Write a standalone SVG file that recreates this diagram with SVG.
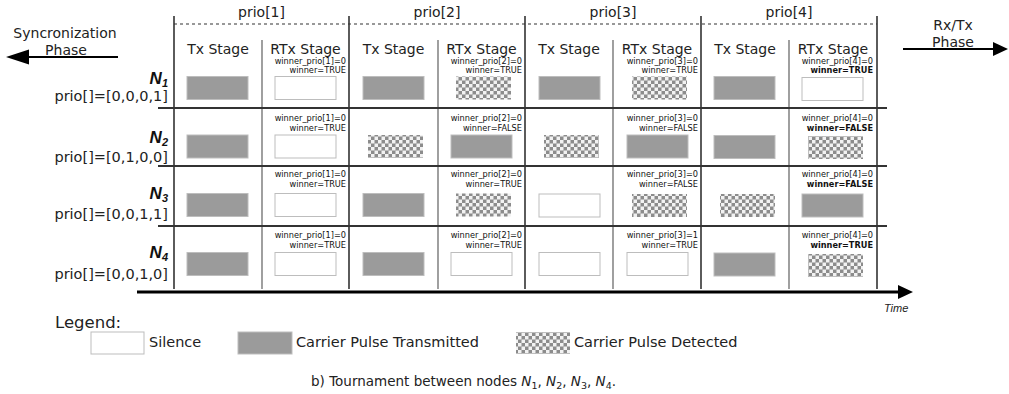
<svg xmlns="http://www.w3.org/2000/svg" width="1009" height="394" viewBox="0 0 1009 394">
<style>
.t{font-family:"DejaVu Sans",sans-serif;fill:#222}
.hdr{font-size:14px;text-anchor:middle}
.lab{font-size:14.5px;text-anchor:end}
.sm{font-family:"DejaVu Sans",sans-serif;font-size:8.2px;text-anchor:end;fill:#111}
.b{font-weight:bold}
.nn{font-family:"Liberation Sans",Arial,sans-serif;font-weight:bold;font-style:italic;font-size:17px;text-anchor:end;fill:#111}
.g{fill:#9b9b9b;stroke:#bdbdbd;stroke-width:1}
.w{fill:#fff;stroke:#bdbdbd;stroke-width:1}
.c{fill:url(#chk)}
.major{stroke:#333;stroke-width:1.6}
.minor{stroke:#888;stroke-width:1.6}
.row{stroke:#333;stroke-width:2}
</style>
<defs>
<pattern id="chk" width="7" height="7" patternUnits="userSpaceOnUse">
<rect width="7" height="7" fill="#8c8c8c"/>
<rect width="3.5" height="3.5" fill="#f2f2f2"/>
<rect x="3.5" y="3.5" width="3.5" height="3.5" fill="#f2f2f2"/>
</pattern>
</defs>
<rect width="1009" height="394" fill="#fff"/>

<g id="grid">
<line x1="174" y1="24" x2="877" y2="24" stroke="#333" stroke-width="1.2" stroke-dasharray="3,3"/>
<line class="major" x1="174" y1="16" x2="174" y2="289"/>
<line class="major" x1="349" y1="16" x2="349" y2="289"/>
<line class="major" x1="525" y1="16" x2="525" y2="289"/>
<line class="major" x1="701" y1="16" x2="701" y2="289"/>
<line class="major" x1="877" y1="16" x2="877" y2="289"/>
<line class="minor" x1="262" y1="40" x2="262" y2="289"/>
<line class="minor" x1="438" y1="40" x2="438" y2="289"/>
<line class="minor" x1="613" y1="40" x2="613" y2="289"/>
<line class="minor" x1="789" y1="40" x2="789" y2="289"/>
<line class="row" x1="158" y1="108" x2="887" y2="108"/>
<line class="row" x1="158" y1="166" x2="887" y2="166"/>
<line class="row" x1="158" y1="226" x2="887" y2="226"/>
</g>

<g id="headers">
<text class="t hdr" x="261.5" y="17">prio[1]</text>
<text class="t hdr" x="437" y="17">prio[2]</text>
<text class="t hdr" x="613" y="17">prio[3]</text>
<text class="t hdr" x="789" y="17">prio[4]</text>
<text class="t hdr" x="218" y="54">Tx Stage</text>
<text class="t hdr" x="305.5" y="54">RTx Stage</text>
<text class="t hdr" x="393.5" y="54">Tx Stage</text>
<text class="t hdr" x="481.5" y="54">RTx Stage</text>
<text class="t hdr" x="569" y="54">Tx Stage</text>
<text class="t hdr" x="657" y="54">RTx Stage</text>
<text class="t hdr" x="745" y="54">Tx Stage</text>
<text class="t hdr" x="833" y="54">RTx Stage</text>
</g>

<g id="phase-sync">
<text class="t" font-size="14" x="65" y="38" text-anchor="middle">Syncronization</text>
<text class="t" font-size="14" x="66" y="55" text-anchor="middle">Phase</text>
</g>
<g id="phase-rxtx">
<text class="t" font-size="14" x="953" y="30" text-anchor="middle">Rx/Tx</text>
<text class="t" font-size="14" x="953" y="47" text-anchor="middle">Phase</text>
</g>

<g id="connectors">
<line x1="118" y1="57" x2="26" y2="57" stroke="#000" stroke-width="2"/>
<polygon points="6,57 29,49.5 29,64.5" fill="#000"/>
<line x1="903" y1="49" x2="994" y2="49" stroke="#000" stroke-width="2"/>
<polygon points="1008,49 993,42 993,56" fill="#000"/>
<line x1="137" y1="292" x2="900" y2="292" stroke="#000" stroke-width="3"/>
<polygon points="913,292 898,285 898,299" fill="#000"/>
</g>
<text id="time" x="884" y="312" font-family="Liberation Sans,Arial,sans-serif" font-style="italic" font-size="11" fill="#222">Time</text>

<g id="node-N1">
<text class="nn" x="168" y="84">N<tspan font-size="11" dy="3">1</tspan></text>
<text class="t lab" x="168" y="101">prio[]=[0,0,0,1]</text>
<rect class="g" x="187" y="76.5" width="61" height="23"/>
<rect class="w" x="275" y="76.5" width="61" height="23"/>
<text class="sm" x="346" y="64">winner_prio[1]=0</text><text class="sm" x="346" y="73">winner=TRUE</text>
<rect class="g" x="363" y="76.5" width="61" height="23"/>
<rect class="c" x="456" y="76.5" width="55" height="23"/>
<text class="sm" x="522" y="64">winner_prio[2]=0</text><text class="sm" x="522" y="73">winner=TRUE</text>
<rect class="g" x="539" y="76.5" width="61" height="23"/>
<rect class="c" x="632" y="76.5" width="55" height="23"/>
<text class="sm" x="698" y="64">winner_prio[3]=0</text><text class="sm" x="698" y="73">winner=TRUE</text>
<rect class="g" x="714" y="76.5" width="61" height="23"/>
<rect class="w" x="802" y="77.5" width="61" height="23"/>
<text class="sm" x="873" y="64">winner_prio[4]=0</text><text class="sm b" x="873" y="73">winner=TRUE</text>
</g>

<g id="node-N2">
<text class="nn" x="168" y="143">N<tspan font-size="11" dy="3">2</tspan></text>
<text class="t lab" x="168" y="162">prio[]=[0,1,0,0]</text>
<rect class="g" x="187" y="135" width="61" height="23"/>
<rect class="w" x="275" y="135" width="61" height="23"/>
<text class="sm" x="346" y="121">winner_prio[1]=0</text><text class="sm" x="346" y="131">winner=TRUE</text>
<rect class="c" x="368" y="135" width="55" height="23"/>
<rect class="g" x="451" y="135" width="61" height="23"/>
<text class="sm" x="522" y="121">winner_prio[2]=0</text><text class="sm" x="522" y="131">winner=FALSE</text>
<rect class="c" x="544" y="135" width="55" height="23"/>
<rect class="g" x="627" y="135" width="61" height="23"/>
<text class="sm" x="698" y="121">winner_prio[3]=0</text><text class="sm" x="698" y="131">winner=FALSE</text>
<rect class="g" x="714" y="135.5" width="61" height="23"/>
<rect class="c" x="808" y="136" width="55" height="23"/>
<text class="sm" x="873" y="121">winner_prio[4]=0</text><text class="sm b" x="873" y="131">winner=FALSE</text>
</g>

<g id="node-N3">
<text class="nn" x="168" y="199">N<tspan font-size="11" dy="3">3</tspan></text>
<text class="t lab" x="168" y="219">prio[]=[0,0,1,1]</text>
<rect class="g" x="187" y="193.5" width="61" height="23"/>
<rect class="w" x="275" y="193.5" width="61" height="23"/>
<text class="sm" x="346" y="177">winner_prio[1]=0</text><text class="sm" x="346" y="187">winner=TRUE</text>
<rect class="g" x="363" y="193.5" width="61" height="23"/>
<rect class="c" x="456" y="193.5" width="55" height="23"/>
<text class="sm" x="522" y="177">winner_prio[2]=0</text><text class="sm" x="522" y="187">winner=TRUE</text>
<rect class="w" x="539" y="194" width="61" height="23"/>
<rect class="c" x="632" y="194" width="55" height="23"/>
<text class="sm" x="698" y="177">winner_prio[3]=0</text><text class="sm" x="698" y="187">winner=FALSE</text>
<rect class="c" x="720" y="194" width="55" height="23"/>
<rect class="g" x="802" y="194" width="61" height="23"/>
<text class="sm" x="873" y="177">winner_prio[4]=0</text><text class="sm b" x="873" y="187">winner=FALSE</text>
</g>

<g id="node-N4">
<text class="nn" x="168" y="258">N<tspan font-size="11" dy="3">4</tspan></text>
<text class="t lab" x="168" y="279">prio[]=[0,0,1,0]</text>
<rect class="g" x="187" y="252.5" width="61" height="23"/>
<rect class="w" x="275" y="252.5" width="61" height="23"/>
<text class="sm" x="346" y="238">winner_prio[1]=0</text><text class="sm" x="346" y="248">winner=TRUE</text>
<rect class="g" x="363" y="252.5" width="61" height="23"/>
<rect class="w" x="451" y="252.5" width="61" height="23"/>
<text class="sm" x="522" y="238">winner_prio[2]=0</text><text class="sm" x="522" y="248">winner=TRUE</text>
<rect class="w" x="539" y="252.5" width="61" height="23"/>
<rect class="w" x="627" y="252.5" width="61" height="23"/>
<text class="sm" x="698" y="238">winner_prio[3]=1</text><text class="sm" x="698" y="248">winner=TRUE</text>
<rect class="g" x="714" y="253" width="61" height="23"/>
<rect class="c" x="808" y="254" width="55" height="23"/>
<text class="sm" x="873" y="238">winner_prio[4]=0</text><text class="sm b" x="873" y="248">winner=TRUE</text>
</g>

<g id="legend">
<text class="t" font-size="16.5" x="55" y="328">Legend:</text>
<rect class="w" x="91" y="332" width="53" height="22"/>
<text class="t" font-size="14.5" x="149" y="347">Silence</text>
<rect class="g" x="238" y="332" width="54" height="22"/>
<text class="t" font-size="14.5" x="296" y="347">Carrier Pulse Transmitted</text>
<rect class="c" x="516" y="332" width="54" height="22"/>
<text class="t" font-size="14.5" x="574" y="347">Carrier Pulse Detected</text>
</g>

<text id="caption" class="t" font-size="13.5" x="311" y="386">b) Tournament between nodes <tspan font-style="italic">N</tspan><tspan font-size="9.5" dy="3">1</tspan><tspan dy="-3">, </tspan><tspan font-style="italic">N</tspan><tspan font-size="9.5" dy="3">2</tspan><tspan dy="-3">, </tspan><tspan font-style="italic">N</tspan><tspan font-size="9.5" dy="3">3</tspan><tspan dy="-3">, </tspan><tspan font-style="italic">N</tspan><tspan font-size="9.5" dy="3">4</tspan><tspan dy="-3">.</tspan></text>
</svg>
